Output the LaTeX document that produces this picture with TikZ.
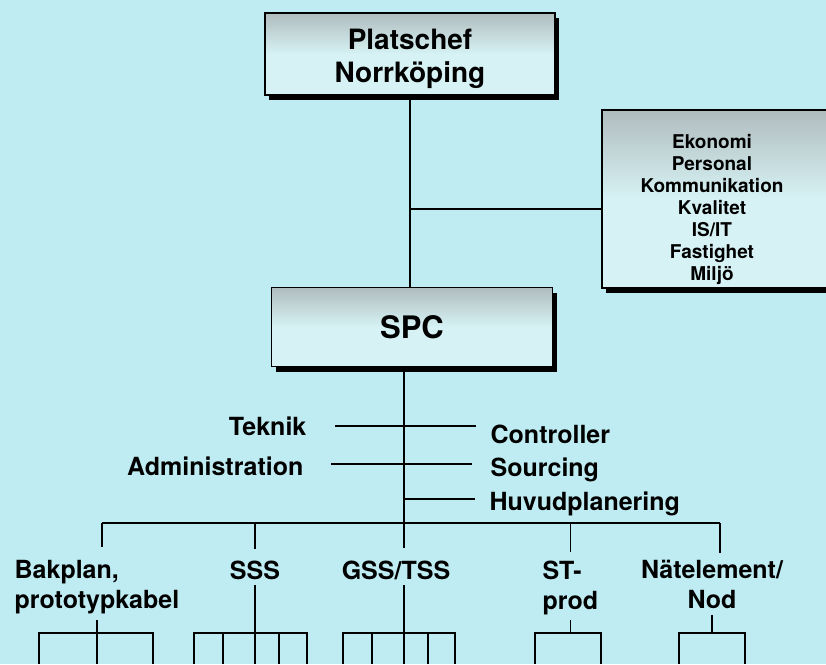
\documentclass[tikz,border=0pt]{standalone}
\usepackage{fontspec}
\setmainfont{TeX Gyre Heros}
\usetikzlibrary{shadows,calc}
\definecolor{bgcyan}{RGB}{190,236,242}
\definecolor{boxtop}{RGB}{176,188,190}
\definecolor{boxlow}{RGB}{214,242,244}

\begin{document}
\begin{tikzpicture}[x=1pt,y=-1pt,line width=1.3pt,
  box/.style={draw, line width=1.3pt, top color=boxtop, bottom color=boxlow, middle color=boxlow,
    drop shadow={shadow xshift=4pt, shadow yshift=-5pt, fill=black, opacity=1}},
  lbl/.style={inner sep=0pt, font=\bfseries\fontsize{25}{30}\selectfont},
  unit/.style={lbl, align=center, inner ysep=5pt}]
\useasboundingbox (0,0) rectangle (826,664);
\fill[bgcyan] (0,0) rectangle (826,664);

% boxes
\node[box, minimum width=290pt, minimum height=82pt, align=center,
  font=\bfseries\fontsize{28}{33}\selectfont] (chef) at (410,54) {\rule{0pt}{31pt}Platschef\\Norrköping};
\node[box, minimum width=281pt, minimum height=79pt,
  font=\bfseries\fontsize{31}{35}\selectfont] (spc) at (412,327) {SPC};
\node[box, minimum width=232pt, minimum height=178pt] (staff) at (718,199) {};
\node[align=center, font=\bfseries\fontsize{19}{22}\selectfont] (staffnames) at (712,209)
  {Ekonomi\\Personal\\Kommunikation\\Kvalitet\\IS/IT\\Fastighet\\Miljö};

\coordinate (fork) at (404,523);
\coordinate (barL) at (102,523);
\coordinate (barR) at (720,523);
\coordinate (brk) at (0,633);
\coordinate (floor) at (0,664);

\draw (chef.south) -- (chef.south |- spc.north);
\draw (chef.south |- staffnames) -- (staff.west |- staffnames);
\draw (spc.south -| fork) -- (fork);

% staff functions
\node[lbl, anchor=base east] (teknik) at (307,435) {Teknik};
\node[lbl, anchor=base east] (admin) at (304,475) {Administration};
\node[lbl, anchor=base west] (controller) at (490,443) {Controller};
\node[lbl, anchor=base west] (sourcing) at (490,476) {Sourcing};
\node[lbl, anchor=base west] (huvud) at (489,510) {Huvudplanering};
\draw ($(teknik.base east)+(28,-9)$) -- ($(teknik.base east -| controller.west)+(-14,-9)$);
\draw ($(admin.base east)+(27,-11)$) -- ($(admin.base east -| sourcing.west)+(-18,-11)$);
\draw ($(fork |- huvud.base)+(0,-11)$) -- ($(huvud.base west)+(-14,-11)$);

% units
\draw (barL) -- (barR);
\node[unit, align=left, anchor=north west] (bak) at (14,555) {Bakplan,\\prototypkabel};
\node[unit, anchor=north] (sss) at (255,555) {SSS};
\node[unit, anchor=north] (gss) at (396,555) {GSS/TSS};
\node[unit, align=left, anchor=north west] (st) at (542,555) {ST-\\prod};
\node[unit, anchor=north] (nat) at (712,555) {Nätelement/\\Nod};
\draw[shorten >=8pt] (barL) -- (barL |- bak.north);
\draw[shorten >=6pt] (sss.north |- barL) -- (sss.north);
\draw[shorten >=7pt] (fork) -- (fork |- gss.north);
\draw[shorten >=3pt] (st.north |- barL) -- (st.north);
\draw[shorten >=2pt] (barR) -- (barR |- nat.north);

% groups below the units
\draw (bak.south) -- (bak.south |- floor);
\draw (39,664) |- (153,633) -- (153,664);
\draw (sss.south) -- (sss.south |- floor);
\draw (194,664) |- (307,633) -- (307,664);
\draw (223,633) -- (223,664) (279,633) -- (279,664);
\draw (gss.south -| fork) -- (fork |- floor);
\draw (343,664) |- (455,633) -- (455,664);
\draw (372,633) -- (372,664) (428,633) -- (428,664);
\draw (st.south) -- (st.south |- brk);
\draw (535,664) |- (601,633) -- (601,664);
\draw (nat.south) -- (nat.south |- brk);
\draw (679,664) |- (745,633) -- (745,664);
\end{tikzpicture}
\end{document}
